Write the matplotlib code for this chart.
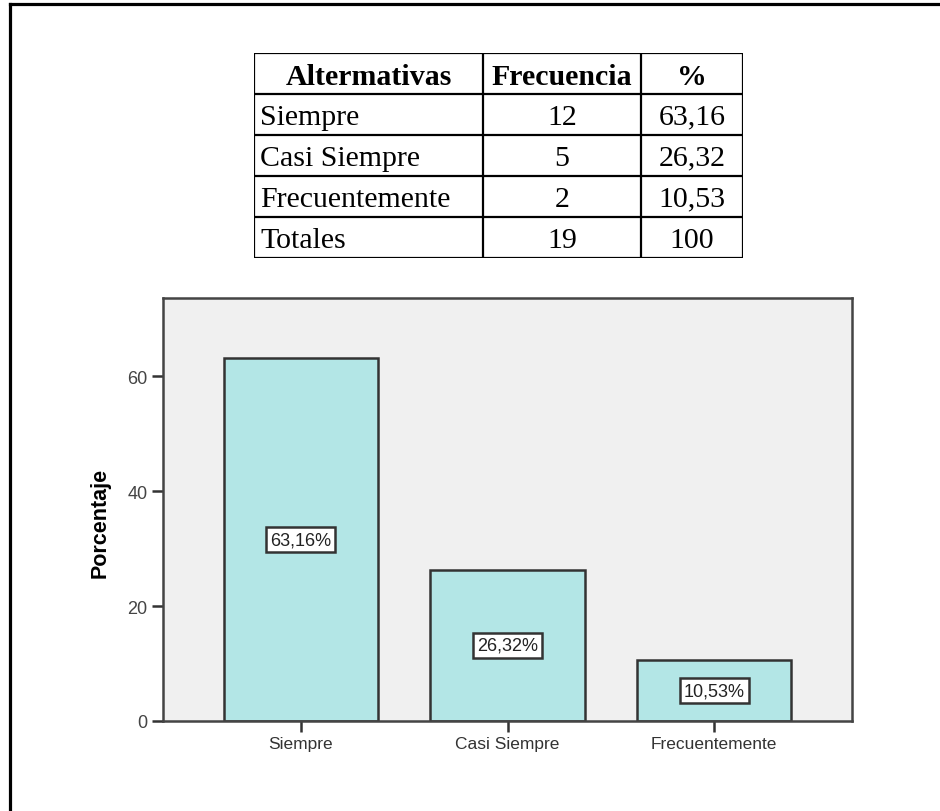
import numpy as np
import matplotlib.pyplot as plt
from matplotlib.lines import Line2D

# data
categorias = ["Siempre", "Casi Siempre", "Frecuentemente"]
frecuencia = [12, 5, 2]
porcentaje = [63.16, 26.32, 10.53]
total_frec = 19
total_pct = "100"
encabezado = ["Altermativas", "Frecuencia", "%"]
yticks = [0, 20, 40, 60]

fig = plt.figure(figsize=(9.4, 8.12), dpi=100)
W, H = 940, 812

# outer frame (only left and top edges visible)
fig.add_artist(Line2D([9.5 / W, 9.5 / W], [0, 1 - 4.5 / H], transform=fig.transFigure, color="black", lw=2.3))
fig.add_artist(Line2D([9.5 / W, 1], [1 - 4.5 / H, 1 - 4.5 / H], transform=fig.transFigure, color="black", lw=2.3))

# ---- table ----
tx0, ty0, tw, th = 254, 54, 489, 205
tax = fig.add_axes([tx0 / W, 1 - (ty0 + th) / H, tw / W, th / H])
tax.set_xlim(0, tw)
tax.set_ylim(th, 0)
tax.axis("off")
col_edges = [0, 229, 387, tw]
n_rows = len(categorias) + 2
row_h = th / n_rows
for x in col_edges:
    tax.plot([x, x], [0, th], color="black", lw=1.6, solid_capstyle="projecting")
for r in range(n_rows + 1):
    tax.plot([0, tw], [r * row_h, r * row_h], color="black", lw=1.6, solid_capstyle="projecting")

filas = [[c, str(f), f"{p:.2f}".replace(".", ",")] for c, f, p in zip(categorias, frecuencia, porcentaje)]
filas.append(["Totales", str(total_frec), total_pct])
serif = "Liberation Serif"
fs_tab = 21.5
for j, txt in enumerate(encabezado):
    tax.text((col_edges[j] + col_edges[j + 1]) / 2, row_h * 0.58, txt, ha="center", va="center",
             fontsize=fs_tab, fontweight="bold", family=serif)
for i, fila in enumerate(filas):
    yc = row_h * (i + 1.55)
    tax.text(6, yc, fila[0], ha="left", va="center", fontsize=fs_tab, family=serif)
    for j in (1, 2):
        tax.text((col_edges[j] + col_edges[j + 1]) / 2, yc, fila[j], ha="center", va="center",
                 fontsize=fs_tab, family=serif)

# ---- bar chart ----
ax_l, ax_t, ax_r, ax_b = 163, 299, 852, 722
ax = fig.add_axes([ax_l / W, 1 - ax_b / H, (ax_r - ax_l) / W, (ax_b - ax_t) / H])
ax.set_facecolor("#f0f0f0")
x = np.arange(len(categorias))
bars = ax.bar(x, porcentaje, width=0.75, color="#b3e6e6", edgecolor="#333333", linewidth=1.8)
ax.set_xlim(-0.668, 2.668)
ax.set_ylim(0, 73.6)
ax.set_xticks(x)
ax.set_xticklabels(categorias, family="Liberation Sans", fontsize=12.5, color="#333333")
ax.set_yticks(yticks)
ax.set_yticklabels([str(t) for t in yticks], family="Liberation Sans", fontsize=13, color="#444444")
ax.tick_params(axis="both", direction="out", length=8, width=1.8, color="#333333", pad=3)
for s in ax.spines.values():
    s.set_color("#444444")
    s.set_linewidth(1.8)

ax.set_ylabel("Porcentaje", family="Liberation Sans", fontsize=15.5, fontweight="bold", color="black")
ax.yaxis.set_label_coords(-0.076, 0.47)

etiquetas = [f"{p:.2f}%".replace(".", ",") for p in porcentaje]
ax.bar_label(bars, labels=etiquetas, label_type="center", family="Liberation Sans", fontsize=13,
             color="#222222",
             bbox=dict(boxstyle="square,pad=0.22", fc="white", ec="#333333", lw=1.8))

fig.savefig("out.png", dpi=100, facecolor="white")
